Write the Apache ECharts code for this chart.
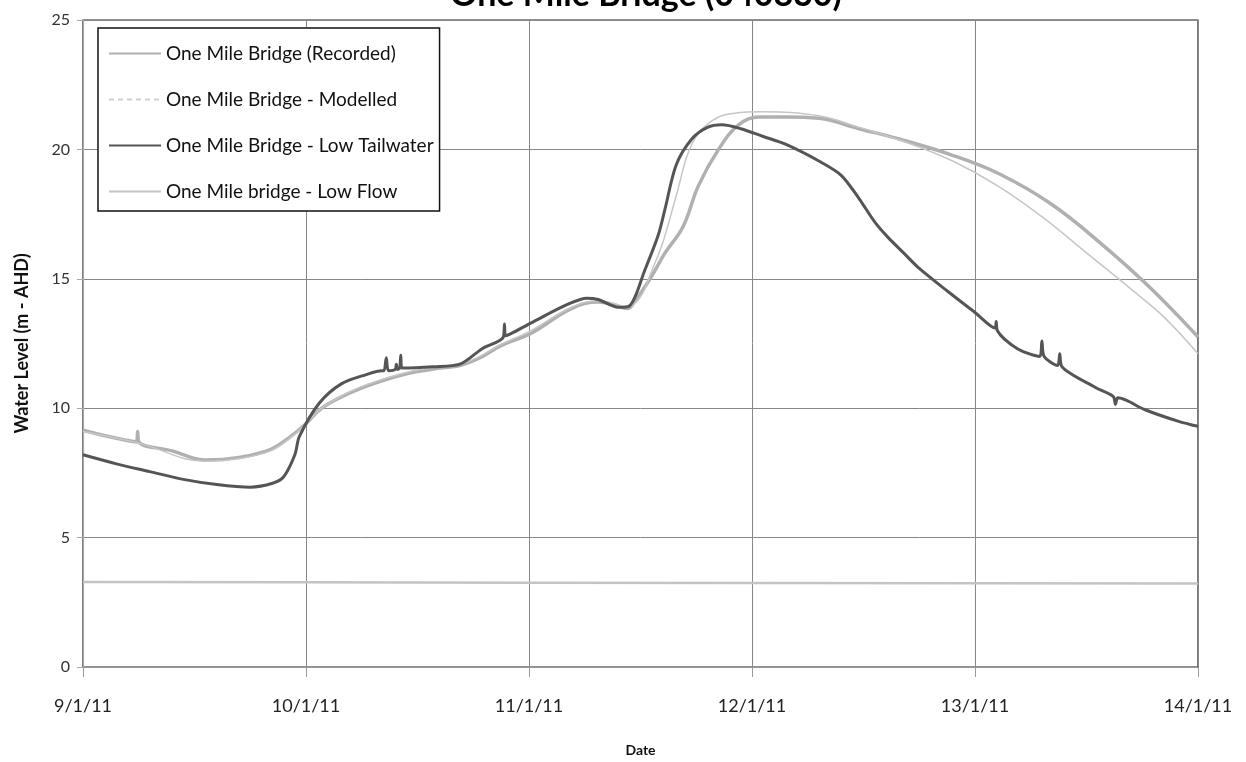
<!DOCTYPE html>
<html>
<head>
<meta charset="utf-8">
<script src="https://cdn.jsdelivr.net/npm/echarts@6/dist/echarts.min.js"></script>
<style>
html,body{margin:0;padding:0;background:#fff;}
#chart{width:1246px;height:762px;}
</style>
</head>
<body>
<div id="chart"></div>
<script>
// x = day of January 2011 (fractional), y = water level (m AHD)
const xTicks = [9, 10, 11, 12, 13, 14];
const yTicks = [0, 5, 10, 15, 20, 25];

const recorded = [
  [9.0,9.15],[9.12,8.9],[9.24,8.7],[9.245,9.1],[9.25,8.7],[9.4,8.35],[9.55,8.0],[9.7,8.1],
  [9.84,8.4],[9.93,8.9],[10.0,9.4],[10.07,10.0],[10.2,10.6],[10.32,11.0],[10.46,11.35],
  [10.6,11.55],[10.69,11.65],[10.78,11.95],[10.87,12.4],[11.01,12.9],[11.19,13.85],
  [11.31,14.1],[11.38,14.0],[11.44,13.85],[11.48,14.2],[11.55,15.1],[11.61,16.0],
  [11.69,17.0],[11.76,18.6],[11.85,20.0],[11.94,20.95],[12.03,21.25],[12.15,21.25],
  [12.3,21.2],[12.48,20.8],[12.66,20.4],[12.89,19.8],[13.11,19.05],[13.34,17.9],
  [13.56,16.4],[13.78,14.7],[14.0,12.75]
];

const modelled = [
  [9.0,9.1],[9.25,8.65],[9.55,7.95],[9.7,8.05],[9.84,8.35],[9.93,8.85],[10.0,9.4],
  [10.07,10.0],[10.2,10.65],[10.32,11.05],[10.46,11.4],[10.6,11.6],[10.69,11.7],
  [10.78,12.0],[10.87,12.45],[11.01,13.0],[11.19,13.9],[11.31,14.15],[11.38,14.05],
  [11.44,13.9],[11.5,14.3],[11.55,15.3],[11.6,16.4],[11.66,18.2],[11.73,20.2],
  [11.82,21.1],[11.92,21.4],[12.05,21.45],[12.3,21.3],[12.48,20.85],[12.7,20.25],
  [12.9,19.55],[13.1,18.6],[13.3,17.4],[13.5,16.0],[13.7,14.6],[13.85,13.5],[14.0,12.1]
];

const lowTailwater = [
  [9.0,8.2],[9.15,7.85],[9.3,7.55],[9.45,7.25],[9.6,7.05],[9.75,6.95],[9.85,7.1],
  [9.9,7.35],[9.95,8.2],[9.97,8.9],[10.06,10.2],[10.16,10.95],[10.27,11.3],[10.34,11.45],
  [10.35,11.45],[10.36,11.95],[10.37,11.45],[10.40,11.5],[10.405,11.7],[10.41,11.5],
  [10.42,11.55],[10.425,12.05],[10.43,11.55],[10.57,11.6],[10.69,11.7],[10.79,12.3],
  [10.885,12.75],[10.89,13.25],[10.895,12.8],[11.01,13.3],[11.17,14.0],[11.26,14.25],
  [11.31,14.2],[11.4,13.9],[11.45,13.95],[11.52,15.35],[11.58,16.7],[11.61,17.7],
  [11.66,19.4],[11.73,20.4],[11.8,20.85],[11.865,20.95],[11.95,20.8],[12.05,20.5],
  [12.15,20.2],[12.3,19.55],[12.4,19.0],[12.48,18.1],[12.55,17.2],[12.61,16.6],
  [12.68,16.0],[12.75,15.4],[12.88,14.5],[13.0,13.7],[13.09,13.1],[13.095,13.35],
  [13.10,13.0],[13.19,12.3],[13.29,12.0],[13.3,12.6],[13.31,12.0],[13.37,11.65],
  [13.38,12.1],[13.39,11.6],[13.54,10.8],[13.62,10.45],[13.63,10.15],[13.64,10.4],
  [13.68,10.3],[13.76,9.95],[13.91,9.5],[14.0,9.3]
];

const lowFlow = [[9,3.28],[10,3.27],[11,3.26],[12,3.25],[13,3.24],[14,3.23]];

const names = [
  'One Mile Bridge (Recorded)',
  'One Mile Bridge - Modelled',
  'One Mile Bridge - Low Tailwater',
  'One Mile bridge - Low Flow'
];

const FONT = 'Lato, "Open Sans", sans-serif';
const chart = echarts.init(document.getElementById('chart'), null, {renderer: 'canvas'});

chart.setOption({
  animation: false,
  backgroundColor: '#ffffff',
  title: {
    text: 'One Mile Bridge (040830)',
    left: 445,
    top: -27,
    textStyle: {fontFamily: FONT, fontSize: 34, fontWeight: 'bold', color: '#000'}
  },
  grid: {
    left: 83, right: 48, top: 20, bottom: 95,
    show: true, borderColor: '#222', borderWidth: 1.2, backgroundColor: 'transparent'
  },
  legend: {
    orient: 'vertical',
    left: 98, top: 28,
    padding: [16, 6, 10, 10],
    itemGap: 27,
    itemWidth: 52,
    itemHeight: 14,
    backgroundColor: '#fff',
    borderColor: '#111',
    borderWidth: 1.5,
    itemStyle: {opacity: 0},
    textStyle: {fontFamily: FONT, fontSize: 19, color: '#111'},
    data: [
      {name: names[0]},
      {name: names[1], lineStyle: {type: [5, 4], color: '#d0d0d0', width: 2}},
      {name: names[2]},
      {name: names[3]}
    ]
  },
  xAxis: {
    type: 'value',
    min: xTicks[0], max: xTicks[xTicks.length - 1], interval: 1,
    name: 'Date',
    nameLocation: 'middle',
    nameGap: 76,
    nameTextStyle: {fontFamily: FONT, fontSize: 14, fontWeight: 'bold', color: '#111'},
    axisLine: {show: true, lineStyle: {color: '#999', width: 1.2}},
    axisTick: {show: true, length: 10, lineStyle: {color: '#999'}},
    axisLabel: {
      fontFamily: FONT, fontSize: 18, color: '#222', margin: 30,
      formatter: v => v + '/1/11'
    },
    splitLine: {show: true, lineStyle: {color: '#888', width: 1}}
  },
  yAxis: {
    type: 'value',
    min: yTicks[0], max: yTicks[yTicks.length - 1], interval: 5,
    name: 'Water Level (m - AHD)',
    nameLocation: 'middle',
    nameGap: 52,
    nameTextStyle: {fontFamily: FONT, fontSize: 18, fontWeight: 'bold', color: '#111'},
    axisLine: {show: true, lineStyle: {color: '#aaa', width: 1.2}},
    axisTick: {show: true, length: 6, lineStyle: {color: '#aaa'}},
    axisLabel: {fontFamily: FONT, fontSize: 16, color: '#333', margin: 13},
    splitLine: {show: true, lineStyle: {color: '#888', width: 1}}
  },
  series: [
    {
      name: names[3], type: 'line', data: lowFlow, showSymbol: false, symbol: 'none',
      lineStyle: {color: '#c4c4c4', width: 2.5}, itemStyle: {color: '#c4c4c4'}, z: 2
    },
    {
      name: names[0], type: 'line', data: recorded, showSymbol: false, symbol: 'none',
      smooth: 0.4,
      lineStyle: {color: '#b0b0b0', width: 3.5}, itemStyle: {color: '#b0b0b0'}, z: 3
    },
    {
      name: names[1], type: 'line', data: modelled, showSymbol: false, symbol: 'none',
      smooth: 0.4,
      lineStyle: {color: '#c6c6c6', width: 1.5}, itemStyle: {color: '#d0d0d0'}, z: 3
    },
    {
      name: names[2], type: 'line', data: lowTailwater, showSymbol: false, symbol: 'none',
      smooth: 0.3,
      lineStyle: {color: '#555555', width: 3}, itemStyle: {color: '#555555'}, z: 4
    }
  ]
});
</script>
</body>
</html>
